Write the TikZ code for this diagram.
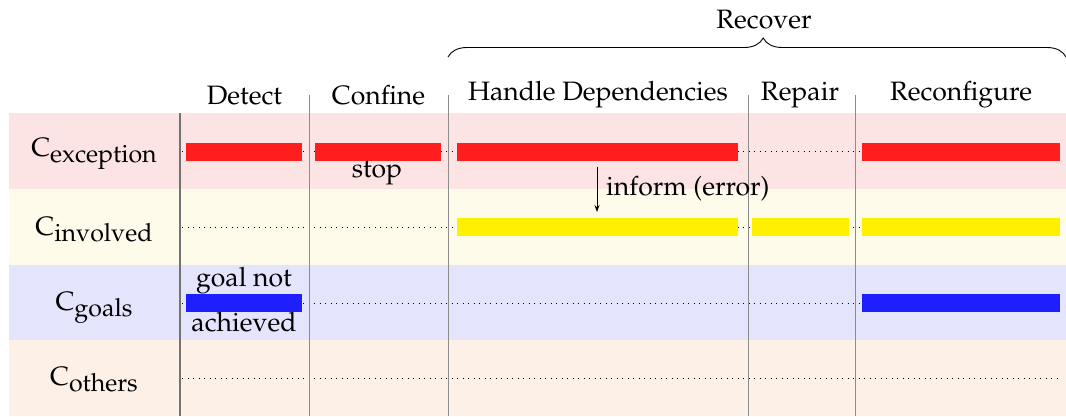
\documentclass[tikz,border=0pt]{standalone}
\usepackage[T1]{fontenc}
\usepackage{palatino}
\usetikzlibrary{decorations.pathreplacing,arrows.meta}
\definecolor{bandred}{RGB}{253,228,228}
\definecolor{bandyellow}{RGB}{254,251,234}
\definecolor{bandblue}{RGB}{228,228,252}
\definecolor{bandorange}{RGB}{253,240,230}
\definecolor{redbar}{RGB}{255,30,30}
\definecolor{yellowbar}{RGB}{255,240,0}
\definecolor{bluebar}{RGB}{30,30,255}
\newcommand{\rowlab}[1]{C\raisebox{-6pt}{\fontsize{25}{28}\selectfont #1}}
\begin{document}
\begin{tikzpicture}[x=1pt,y=-1pt,
  every node/.style={font=\fontsize{26.6}{31}\selectfont, inner sep=0pt},
  sepmain/.style={draw=black!55, line width=1.4pt},
  sepline/.style={draw=black!45, line width=1pt},
  bar/.style={minimum height=18pt, inner sep=0pt, draw=none},
  track/.style={line width=1pt, dash pattern=on 1pt off 4.5pt},
  txt/.style={anchor=base},
]
\useasboundingbox (0,0) rectangle (1066,416);
% bands
\fill[bandred] (9,113) rectangle (1066,189);
\fill[bandyellow] (9,189) rectangle (1066,265);
\fill[bandblue] (9,265) rectangle (1066,340);
\fill[bandorange] (9,340) rectangle (1066,416);
% row labels
\node[txt] (lex) at (94,156) {\rowlab{exception}};
\node[txt] (lin) at (94,235) {\rowlab{involved}};
\node[txt] (lgo) at (94,310) {\rowlab{goals}};
\node[txt] (lot) at (94,385) {\rowlab{others}};
% tracks
\coordinate (t1a) at (182,151.5); \coordinate (t1b) at (1062,151.5);
\coordinate (t2a) at (182,227); \coordinate (t2b) at (1062,227);
\coordinate (t3a) at (182,303); \coordinate (t3b) at (1062,303);
\coordinate (t4a) at (182,378); \coordinate (t4b) at (1062,378);
\draw[track] (t1a) -- (t1b);
\draw[track] (t2a) -- (t2b);
\draw[track] (t3a) -- (t3b);
\draw[track] (t4a) -- (t4b);
% separators
\draw[sepmain] (180,113) -- (180,416);
\draw[sepline] (309,95) -- (309,416);
\draw[sepline] (448,95) -- (448,416);
\draw[sepline] (748,95) -- (748,416);
\draw[sepline] (855,95) -- (855,416);
% bars
\node[bar, fill=redbar, minimum width=116pt] (exDetect) at (244,152) {};
\node[bar, fill=redbar, minimum width=126pt] (exConfine) at (378,152) {};
\node[bar, fill=redbar, minimum width=281pt] (exHandle) at (597.5,152) {};
\node[bar, fill=redbar, minimum width=198pt] (exReconf) at (961,152) {};
\node[bar, fill=yellowbar, minimum width=281pt] (inHandle) at (597.5,227) {};
\node[bar, fill=yellowbar, minimum width=97pt] (inRepair) at (800.5,227) {};
\node[bar, fill=yellowbar, minimum width=198pt] (inReconf) at (961,227) {};
\node[bar, fill=bluebar, minimum width=116pt] (goDetect) at (244,303) {};
\node[bar, fill=bluebar, minimum width=198pt] (goReconf) at (961,303) {};
% headers
\node[txt] (hDetect) at (244.5,104) {Detect};
\node[txt] (hConfine) at (378.5,104) {Confine};
\node[txt] (hHandle) at (598,100) {Handle Dependencies};
\node[txt] (hRepair) at (800,100) {Repair};
\node[txt] (hReconf) at (961,100) {Reconfigure};
\node[txt] (hRecover) at (764,28) {Recover};
\coordinate (brA) at (448,57);
\coordinate (brB) at (1066,57);
\draw[decorate, decoration={brace, amplitude=19pt, aspect=0.51}, line width=0.9pt] (brA) -- (brB);
% annotations
\node[txt] (stop) at (377,177) {stop};
\node[txt] (goal1) at (244,286) {goal not};
\node[txt] (goal2) at (244,331) {achieved};
\coordinate (infA) at (597,167);
\coordinate (infB) at (597,212);
\draw[-{Stealth[length=7pt,width=5pt]}, line width=0.9pt] (infA) -- (infB);
\node[anchor=base west] (inform) at (606,195) {inform (error)};
\end{tikzpicture}
\end{document}
